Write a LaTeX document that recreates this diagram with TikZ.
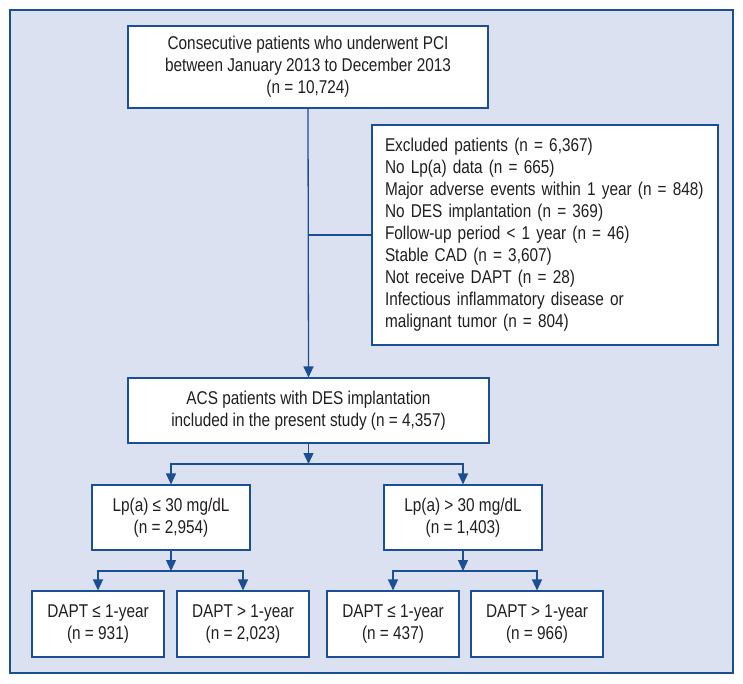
\documentclass[tikz,border=0pt]{standalone}
\usepackage{fontspec}
\setmainfont{Liberation Sans}[FakeStretch=0.83]
\usetikzlibrary{arrows.meta}
\definecolor{bgc}{RGB}{220,225,241}
\definecolor{lc}{RGB}{28,78,148}
\definecolor{tc}{RGB}{35,31,32}
\tikzset{
  box/.style={draw=lc, fill=white, line width=1.1pt, text=tc, align=center,
    inner sep=0pt, font=\fontsize{18.5}{22}\selectfont},
  conn/.style={draw=lc, line width=1.3pt},
  arr/.style={conn, -{Triangle[length=11pt,width=10pt]}},
}
\begin{document}
\begin{tikzpicture}[x=1pt,y=-1pt]
\useasboundingbox (0,0) rectangle (743,684);
\fill[white] (0,0) rectangle (743,684);
\draw[lc, fill=bgc, line width=1.2pt] (10,10) rectangle (733,673);

\node[box, minimum width=360pt, minimum height=82pt] (top) at (308,67)
  {Consecutive patients who underwent PCI\\between January 2013 to December 2013\\(n = 10,724)};
\node[box, minimum width=346pt, minimum height=220pt, text width=320pt, align=left] (excl) at (545,235)
  {Excluded patients (n = 6,367)\\No Lp(a) data (n = 665)\\Major adverse events within 1 year (n = 848)\\No DES implantation (n = 369)\\Follow-up period < 1 year (n = 46)\\Stable CAD (n = 3,607)\\Not receive DAPT (n = 28)\\Infectious inflammatory disease or\\malignant tumor (n = 804)};
\node[box, minimum width=361pt, minimum height=65pt] (acs) at (308.5,410.5)
  {ACS patients with DES implantation\\included in the present study (n = 4,357)};
\node[box, minimum width=158pt, minimum height=65pt] (lp1) at (171,517.5)
  {Lp(a) ≤ 30 mg/dL\\(n = 2,954)};
\node[box, minimum width=158pt, minimum height=65pt] (lp2) at (463,517.5)
  {Lp(a) > 30 mg/dL\\(n = 1,403)};
\node[box, minimum width=132pt, minimum height=66pt] (d1) at (98,624)
  {DAPT ≤ 1-year\\(n = 931)};
\node[box, minimum width=132pt, minimum height=66pt] (d2) at (243,624)
  {DAPT > 1-year\\(n = 2,023)};
\node[box, minimum width=132pt, minimum height=66pt] (d3) at (393,624)
  {DAPT ≤ 1-year\\(n = 437)};
\node[box, minimum width=132pt, minimum height=66pt] (d4) at (537,624)
  {DAPT > 1-year\\(n = 966)};

\coordinate (j1) at (308.5,464);
\coordinate (j2) at (171,571);
\coordinate (j3) at (463,571);

\draw[arr] (top.south) -- (acs.north);
\draw[conn] (top.south |- excl.west) -- (excl.west);
\draw[arr] (acs.south) -- (j1);
\draw[arr] (j1) -| (lp1.north);
\draw[arr] (j1) -| (lp2.north);
\draw[arr] (lp1.south) -- (j2);
\draw[arr] (j2) -| (d1.north);
\draw[arr] (j2) -| (d2.north);
\draw[arr] (lp2.south) -- (j3);
\draw[arr] (j3) -| (d3.north);
\draw[arr] (j3) -| (d4.north);
\end{tikzpicture}
\end{document}
